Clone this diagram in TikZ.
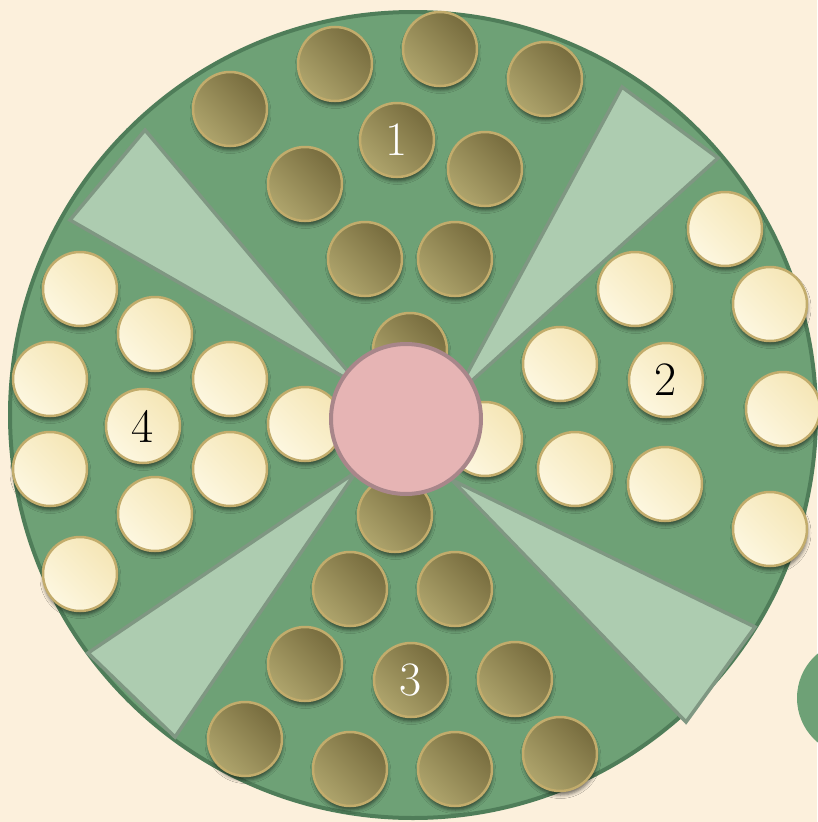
\documentclass[tikz,border=0pt]{standalone}
\usetikzlibrary{shadows.blur}
\definecolor{bg}{HTML}{FCF0DC}
\definecolor{boardfill}{HTML}{6EA176}
\definecolor{boardedge}{HTML}{4F7D59}
\definecolor{wedgefill}{HTML}{ADCCB0}
\definecolor{wedgeedge}{HTML}{7F9782}
\definecolor{pinkfill}{HTML}{E6B4B4}
\definecolor{pinkedge}{HTML}{A8868A}
\definecolor{darkA}{HTML}{776C3E}
\definecolor{darkB}{HTML}{AEA46C}
\definecolor{lightA}{HTML}{F5E6B6}
\definecolor{lightB}{HTML}{FDF7E0}
\definecolor{coinedge}{HTML}{C2AC6C}
\tikzset{
  coin/.style={circle, minimum size=74pt, inner sep=0pt, draw=coinedge, line width=2.5pt,
    font=\fontsize{48}{48}\selectfont,
    blur shadow={shadow xshift=0.5pt, shadow yshift=-4pt, shadow blur radius=3.5pt, shadow opacity=55}},
  darkcoin/.style={coin, top color=darkA, bottom color=darkB, shading angle=-45, text=white},
  lightcoin/.style={coin, top color=lightA, bottom color=lightB, shading angle=-45, text=black},
  wedge/.style={fill=wedgefill, draw=wedgeedge, line width=3.5pt},
  hubstyle/.style={circle, minimum size=150pt, inner sep=0pt, fill=pinkfill, draw=pinkedge, line width=4pt}
}
\begin{document}
\begin{tikzpicture}[x=1pt,y=-1pt]
\useasboundingbox (0,0) rectangle (817,822);
\fill[bg] (0,0) rectangle (817,822);
\fill[boardfill] (855,698) circle[radius=58];
\draw[fill=boardfill, draw=boardedge, line width=4pt] (413,415) circle[radius=403];
% wedges
\draw[wedge] (361,387) -- (145,130) -- (70,220) -- cycle;
\draw[wedge] (455,396) -- (622,87) -- (718,158) -- cycle;
\draw[wedge] (452,480) -- (755,627) -- (686,722) -- cycle;
\draw[wedge] (356,472) -- (88,653) -- (175,737) -- cycle;
% sector 1 (dark)
\foreach \x/\y [count=\i] in {230/109, 335/64, 440/49, 545/79, 305/184, 485/169, 365/259, 455/259, 410/350}
  \node[darkcoin] (a\i) at (\x,\y) {};
\node[darkcoin] (n1) at (397,140) {1};
% sector 2 (light)
\foreach \x/\y [count=\i] in {725/229, 635/289, 770/304, 560/364, 783/409, 485/439, 575/469, 665/484, 770/529}
  \node[lightcoin] (b\i) at (\x,\y) {};
\node[lightcoin] (n2) at (666,380) {2};
% sector 3 (dark)
\foreach \x/\y [count=\i] in {395/515, 350/589, 455/589, 305/664, 515/679, 245/739, 350/769, 455/769, 560/754}
  \node[darkcoin] (c\i) at (\x,\y) {};
\node[darkcoin] (n3) at (411,680) {3};
% sector 4 (light)
\foreach \x/\y [count=\i] in {80/289, 155/334, 50/379, 230/379, 305/424, 50/469, 230/469, 155/514, 80/574}
  \node[lightcoin] (d\i) at (\x,\y) {};
\node[lightcoin] (n4) at (143,426) {4};
% hub
\node[hubstyle] (hub) at (406,419) {};
\end{tikzpicture}
\end{document}
